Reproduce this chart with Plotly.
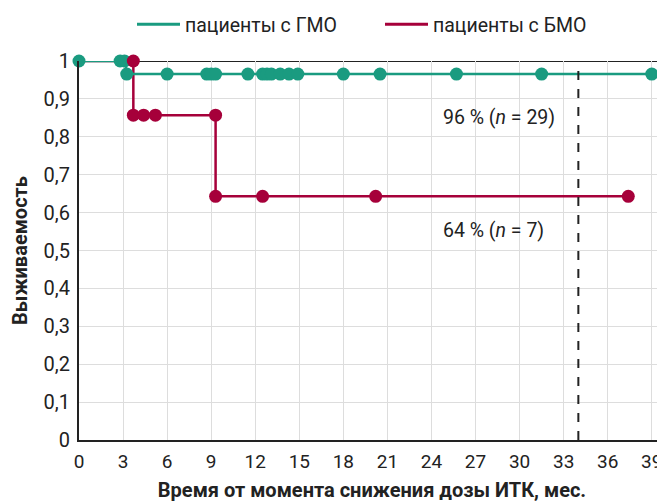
import plotly.graph_objects as go

# --- data ---
x_ticks = [0, 3, 6, 9, 12, 15, 18, 21, 24, 27, 30, 33, 36, 39]
y_ticks = [0, 0.1, 0.2, 0.3, 0.4, 0.5, 0.6, 0.7, 0.8, 0.9, 1.0]
y_tick_labels = ["0", "0,1", "0,2", "0,3", "0,4", "0,5", "0,6", "0,7", "0,8", "0,9", "1"]

gmo_name = "пациенты с ГМО"
gmo_step_x = [0, 3.2, 40]
gmo_step_y = [1.0, 0.9655, 0.9655]
gmo_cens_x = [0, 2.8, 3.1, 3.25, 6.0, 8.7, 9.0, 9.3, 11.5, 12.5, 12.8, 13.1, 13.7, 14.3, 14.9, 18.0, 20.5, 25.7, 31.5, 39.0]
gmo_cens_y = [1.0, 1.0, 1.0] + [0.9655] * 17

bmo_name = "пациенты с БМО"
bmo_step_x = [0, 3.7, 9.3, 37.4]
bmo_step_y = [1.0, 0.857, 0.643, 0.643]
bmo_cens_x = [3.7, 3.7, 4.4, 5.2, 9.3, 9.3, 12.5, 20.2, 37.4]
bmo_cens_y = [1.0, 0.857, 0.857, 0.857, 0.857, 0.643, 0.643, 0.643, 0.643]

cutoff_x = 34
labels = ["96 % (<i>n</i> = 29)", "64 % (<i>n</i> = 7)"]
label_y = [0.852, 0.554]

GREEN = "#1a9b80"
RED = "#a6003a"
FONT = "Roboto"

# the page body has an 8px margin, so the figure is drawn 8px smaller
W, H = 657, 494

fig = go.Figure()

fig.add_trace(go.Scatter(x=bmo_step_x, y=bmo_step_y, mode="lines", line_shape="hv",
                         line=dict(color=RED, width=2.5), showlegend=False, cliponaxis=False))
fig.add_trace(go.Scatter(x=gmo_step_x, y=gmo_step_y, mode="lines", line_shape="hv",
                         line=dict(color=GREEN, width=2.5), showlegend=False, cliponaxis=False))
fig.add_trace(go.Scatter(x=gmo_cens_x, y=gmo_cens_y, mode="markers",
                         marker=dict(color=GREEN, size=13), showlegend=False, cliponaxis=False))
fig.add_trace(go.Scatter(x=bmo_cens_x, y=bmo_cens_y, mode="markers",
                         marker=dict(color=RED, size=13), showlegend=False, cliponaxis=False))
fig.add_trace(go.Scatter(x=[None], y=[None], mode="lines", name=gmo_name,
                         line=dict(color=GREEN, width=3)))
fig.add_trace(go.Scatter(x=[None], y=[None], mode="lines", name=bmo_name,
                         line=dict(color=RED, width=3)))

fig.add_shape(type="line", x0=cutoff_x, x1=cutoff_x, y0=0, y1=1, xref="x", yref="y",
              line=dict(color="#222222", width=2, dash="dash"))

for t, yv in zip(labels, label_y):
    fig.add_annotation(x=24.64, y=yv, text=t, showarrow=False, xanchor="left", yanchor="middle",
                       font=dict(family=FONT, size=19.5, color="#222222"))

fig.update_layout(
    width=W, height=H,
    margin=dict(l=71, r=0, t=53, b=62, autoexpand=False),
    plot_bgcolor="white", paper_bgcolor="white",
    font=dict(family=FONT, size=19, color="#222222"),
    legend=dict(orientation="h", x=124 / W, xanchor="left", xref="container",
                y=1 - 16.5 / H, yref="container", yanchor="middle",
                font=dict(family=FONT, size=19.5, color="#222222"),
                itemwidth=43, entrywidth=190),
    xaxis=dict(range=[0, 39.9], tickvals=x_ticks, showgrid=True, gridcolor="#dddddd", gridwidth=1,
               showline=True, linecolor="#222222", linewidth=2, ticks="", automargin=False,
               zeroline=False, tickfont=dict(size=19), ticklabelstandoff=3,
               title=dict(text="<b>Время от момента снижения дозы ИТК, мес.</b>",
                          font=dict(size=20), standoff=11)),
    yaxis=dict(range=[0, 1], tickvals=y_ticks, ticktext=y_tick_labels, showgrid=True,
               gridcolor="#dddddd", gridwidth=1, showline=True, linecolor="#222222", linewidth=2,
               zeroline=False, ticks="", tickfont=dict(size=20), automargin=False,
               ticklabelstandoff=3,
               title=dict(text="<b>Выживаемость</b>", font=dict(size=20), standoff=13)),
)
fig.add_shape(type="line", x0=0, x1=1, xref="paper", y0=1, y1=1, yref="y",
              line=dict(color="#222222", width=2), layer="below")

fig.write_html("out.html")
